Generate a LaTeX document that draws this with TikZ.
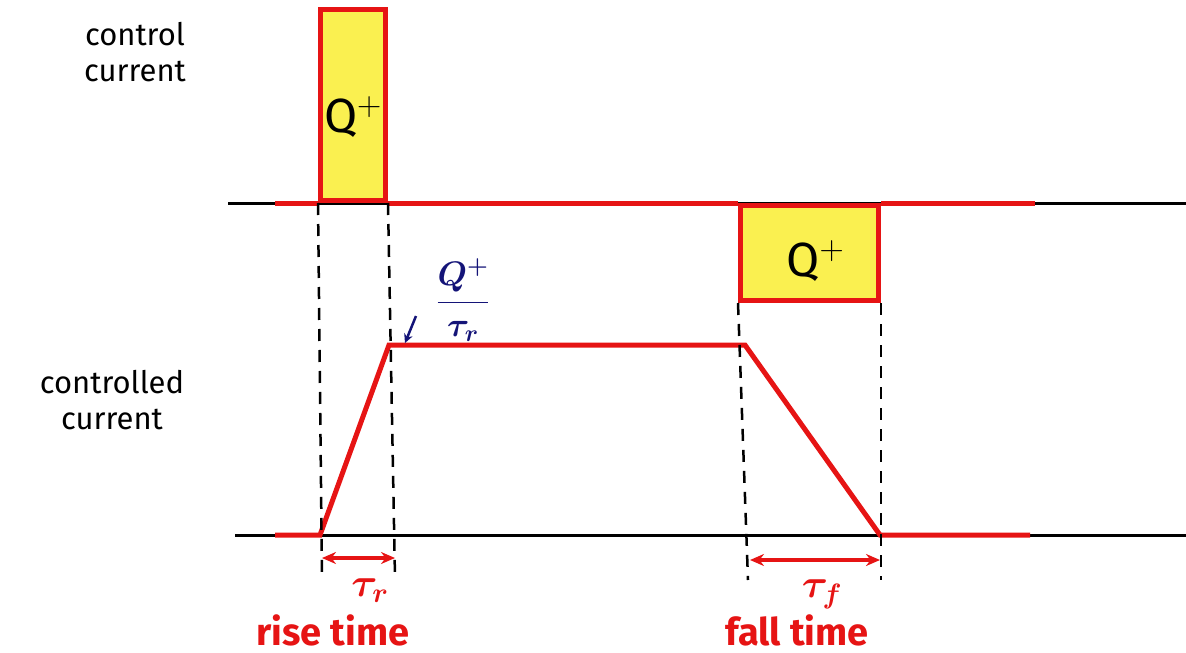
\RequirePackage{fix-cm}
\documentclass[tikz,border=0pt]{standalone}
\usepackage{amsmath}
\usepackage{bm}
\usepackage{fontspec}
\setmainfont{Fira Sans}
\usetikzlibrary{arrows.meta}
\definecolor{pen}{RGB}{230,20,20}
\definecolor{fillY}{RGB}{250,240,80}
\definecolor{ink}{RGB}{20,20,120}
\begin{document}
\begin{tikzpicture}[x=1pt,y=-1pt,
  base/.style={line width=3pt,black},
  sig/.style={line width=5pt,pen,line join=miter},
  guide/.style={line width=2.5pt,black,dash pattern=on 12pt off 9pt},
  dim/.style={line width=3.5pt,pen,{Stealth[length=14pt,width=12pt]}-{Stealth[length=14pt,width=12pt]}},
  lbl/.style={font=\fontsize{31}{36}\selectfont,align=center,text=black},
  rlbl/.style={font=\fontsize{38}{42}\selectfont\bfseries,text=pen},
  tlbl/.style={font=\fontsize{40}{44}\selectfont,text=pen},
  qlbl/.style={font=\fontsize{48}{52}\selectfont,text=black}]
\useasboundingbox (0,0) rectangle (1186,653);
% coordinates
\coordinate (tl) at (228,203);
\coordinate (tr) at (1186,203);
\coordinate (bl) at (235,535);
\coordinate (br) at (1186,535);
% baselines
\draw[base] (tl) -- (tr);
\draw[base] (bl) -- (br);
% control current pulses
\node[draw=pen,line width=5pt,fill=fillY,minimum width=65pt,minimum height=191pt,inner sep=0,anchor=south west] (p1) at (318,203) {};
\node[qlbl] (q1) at ([yshift=-12pt]p1.center) {Q$^{+}$};
\node[draw=pen,line width=5pt,fill=fillY,minimum width=138pt,minimum height=95pt,inner sep=0,anchor=north west] (p2) at (738,203) {};
\node[qlbl] (q2) at ([xshift=6pt,yshift=-8pt]p2.center) {Q$^{+}$};
\draw[sig] (275,203) -- (p1.south west);
\draw[sig] (p1.south east) -- (p2.north west);
\draw[sig] (p2.north east) -- (1035,203);
% controlled current
\coordinate (c0) at (320,535);
\coordinate (c1) at (389,345);
\coordinate (c2) at (745,345);
\coordinate (c3) at (880,535);
\draw[sig] (275,535) -- (c0) -- (c1) -- (c2) -- (c3) -- (1030,535);
% guides
\draw[guide] (p1.south west) -- (322,578);
\draw[guide] (p1.south east) -- (395,578);
\draw[guide] (p2.south west) -- (748,580);
\draw[guide] (p2.south east) -- (881,580);
% dimension arrows
\coordinate (ra) at (322,558);
\coordinate (rb) at (395,558);
\coordinate (fa) at (750,560);
\coordinate (fb) at (880,560);
\draw[dim] (ra) -- (rb);
\draw[dim] (fa) -- (fb);
\node[tlbl] (tr1) at (370,591) {$\bm{\tau_r}$};
\node[rlbl] (rt) at (333,630) {rise time};
\node[tlbl] (tf1) at (822,594) {$\bm{\tau_f}$};
\node[rlbl] (ft) at (797,630) {fall time};
% Q+/tau_r
\node[text=ink,font=\fontsize{34}{38}\selectfont\bfseries] (qt) at (463,300) {$\bm{\dfrac{Q^{+}}{\tau_r}}$};
\coordinate (qa) at (416,316);
\coordinate (qb) at (405,343);
\draw[ink,line width=2.5pt,-{Stealth[length=9pt,width=9pt]}] (qa) -- (qb);
% axis labels
\node[lbl] (cc) at (135,52) {control\\current};
\node[lbl] (cd) at (112,400) {controlled\\current};
\end{tikzpicture}
\end{document}
